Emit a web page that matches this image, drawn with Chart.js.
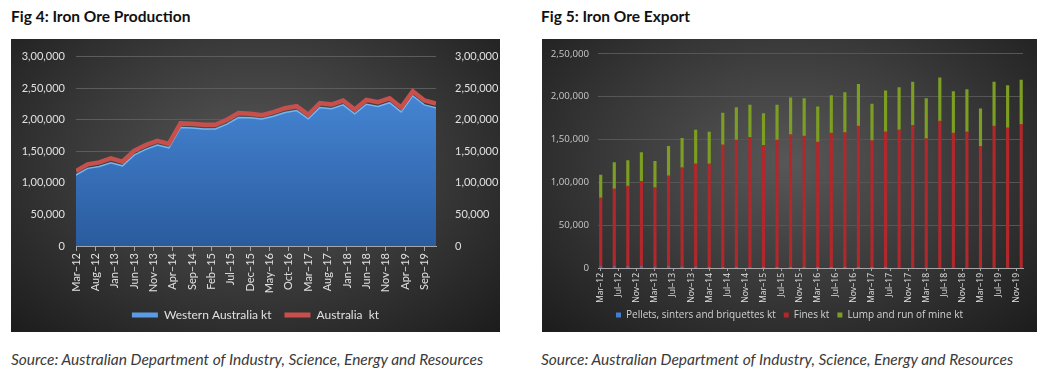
<!DOCTYPE html>
<html>
<head>
<meta charset="utf-8">
<title>Iron Ore Production and Export</title>
<script src="https://cdn.jsdelivr.net/npm/chart.js@4.4.1/dist/chart.umd.min.js"></script>
<style>
body { margin: 0; width: 1046px; height: 371px; background: #fff; position: relative; overflow: hidden; }
.title { position: absolute; top: 7px; font: bold 15.5px Lato, sans-serif; color: #111; }
.panel { position: absolute; top: 39px; height: 293px;
  background: radial-gradient(ellipse at 50% 42%, #575757 0%, #3d3d3d 45%, #1c1c1c 100%); }
.src { position: absolute; top: 350px; font: italic 15.5px Lato, sans-serif; color: #3a3a3a; }
</style>
</head>
<body>
<div class="title" style="left:11px">Fig 4: Iron Ore Production</div>
<div class="title" style="left:541px">Fig 5: Iron Ore Export</div>
<div class="panel" style="left:11px;width:489px"><canvas id="prodChart" width="489" height="293"></canvas></div>
<div class="panel" style="left:542px;width:495px"><canvas id="expChart" width="495" height="293"></canvas></div>
<div class="src" style="left:11px">Source: Australian Department of Industry, Science, Energy and Resources</div>
<div class="src" style="left:541px">Source: Australian Department of Industry, Science, Energy and Resources</div>

<script>
// Fig 4 - quarterly production (Mar-12 .. Dec-19), kt
const prodTicks = ["Mar–12","Aug–12","Jan–13","Jun–13","Nov–13","Apr–14","Sep–14","Feb–15","Jul–15","Dec–15",
                   "May–16","Oct–16","Mar–17","Aug–17","Jan–18","Jun–18","Nov–18","Apr–19","Sep–19"];
const prodWA  = [112500,123000,126000,132000,127000,144000,153000,160000,155500,187500,187000,185500,185500,193000,203500,203000,
                 201000,205500,211500,214500,201500,219500,217500,223500,209500,224500,221000,227000,212500,238000,223500,219000];
const prodAus = [118800,129300,132500,138700,133500,150800,159700,166500,161800,194200,193700,192100,192100,200000,210500,209400,
                 207300,212000,218300,221500,207900,226200,224100,230400,216200,231400,227700,234000,219400,245000,230400,225700];

// Fig 5 - quarterly exports (Mar-12 .. Dec-19), kt
const expTicks = ["Mar–12","Jul–12","Nov–12","Mar–13","Jul–13","Nov–13","Mar–14","Jul–14","Nov–14","Mar–15","Jul–15","Nov–15",
                  "Mar–16","Jul–16","Nov–16","Mar–17","Jul–17","Nov–17","Mar–18","Jul–18","Nov–18","Mar–19","Jul–19","Nov–19"];
const expPellets = [1500,1400,1300,1400,1200,1300,1100,1000,900,800,700,600,500,400,300,300,
                    200,200,100,100,100,100,0,0,0,0,0,0,0,0,0,0];
const expFines   = [80400,91100,94200,99800,92800,106300,116000,120600,120700,143100,148500,152000,142600,148800,155300,153800,
                    146700,157300,158100,165700,148700,158900,161200,166500,151000,171400,157500,159000,142000,165800,163500,167700];
const expLump    = [26500,30600,29900,33600,30600,34400,34300,39300,37000,37000,38100,37700,37000,41100,43100,43800,
                    41100,43800,46500,48700,42600,47900,49500,50600,46900,50600,48300,49400,43800,51300,49500,51700];

// quarter index -> month offset from Mar-12
const toPoints = arr => arr.map((v, i) => ({x: i * 3, y: v}));

function indian(v) {
    if (v === 0) return "0";
    const s = String(v);
    const last3 = s.slice(-3);
    let rest = s.slice(0, -3);
    if (!rest) return last3;
    rest = rest.replace(/\B(?=(\d{2})+(?!\d))/g, ",");
    return rest + "," + last3;
}

const lightText = "#e0e0e0";
const labelFont = {family: "Lato", size: 11};

function areaFill(ctx) {
    const area = ctx.chart.chartArea;
    if (!area) return "#3f7fd0";
    const g = ctx.chart.ctx.createLinearGradient(0, area.top, 0, area.bottom);
    g.addColorStop(0, "#4c8fe0");
    g.addColorStop(1, "#2a5b9e");
    return g;
}

new Chart(document.getElementById("prodChart"), {
    type: "line",
    data: {
        datasets: [{
            label: "Western Australia kt",
            data: toPoints(prodWA),
            fill: "origin",
            backgroundColor: areaFill,
            borderColor: "#74b6f2",
            borderWidth: 1.5,
            pointRadius: 0,
            tension: 0,
            order: 1
        }, {
            label: "Australia  kt",
            data: toPoints(prodAus),
            fill: false,
            backgroundColor: "#c8504c",
            borderColor: "#c8504c",
            borderWidth: 4.5,
            pointRadius: 0,
            tension: 0,
            order: 0
        }]
    },
    options: {
        responsive: false,
        animation: false,
        layout: {padding: {top: 15, bottom: 1, left: 0, right: 0}},
        plugins: {
            tooltip: {enabled: false},
            legend: {
                position: "bottom",
                labels: {
                    color: lightText,
                    font: {family: "Lato", size: 12},
                    boxWidth: 26,
                    boxHeight: 5,
                    padding: 13,
                    generateLabels: chart => Chart.defaults.plugins.legend.labels.generateLabels(chart)
                        .map(it => ({...it, lineWidth: 0, fillStyle: it.datasetIndex === 0 ? "#5a9ae6" : "#c8504c"}))
                        .sort((a, b) => a.datasetIndex - b.datasetIndex)
                }
            }
        },
        scales: {
            x: {
                type: "linear",
                min: 0,
                max: 93,
                grid: {drawOnChartArea: false, color: "#a6a6a6", tickLength: 5},
                border: {color: "#a6a6a6"},
                ticks: {
                    stepSize: 5,
                    includeBounds: false,
                    autoSkip: false,
                    minRotation: 90,
                    maxRotation: 90,
                    padding: 2,
                    color: lightText,
                    font: labelFont,
                    callback: v => v % 5 === 0 ? prodTicks[v / 5] : ""
                },
                afterFit: s => { s.height = 50; }
            },
            y: {
                position: "left",
                min: 0,
                max: 300000,
                grid: {color: "#5c5c5c", drawTicks: false},
                border: {display: false},
                ticks: {stepSize: 50000, padding: 11, color: lightText, font: labelFont, callback: indian},
                afterFit: s => { s.width = 65; }
            },
            y2: {
                position: "right",
                min: 0,
                max: 300000,
                grid: {display: false},
                border: {display: false},
                ticks: {stepSize: 50000, padding: 11, color: lightText, font: labelFont, callback: indian},
                afterFit: s => { s.width = 64; }
            }
        }
    }
});

const smallFont = {family: "Open Sans", size: 10};

new Chart(document.getElementById("expChart"), {
    type: "bar",
    data: {
        datasets: [{
            label: "Pellets, sinters and briquettes kt",
            data: toPoints(expPellets),
            backgroundColor: "#3f7fd0",
            barThickness: 2.5
        }, {
            label: "Fines kt",
            data: toPoints(expFines),
            backgroundColor: "#b0282b",
            barThickness: 2.5
        }, {
            label: "Lump and run of mine kt",
            data: toPoints(expLump),
            backgroundColor: "#7c9e22",
            barThickness: 2.5
        }]
    },
    options: {
        responsive: false,
        animation: false,
        layout: {padding: {top: 10, bottom: 2, left: 0, right: 0}},
        plugins: {
            tooltip: {enabled: false},
            legend: {
                position: "bottom",
                labels: {color: "#d0d0d0", font: smallFont, boxWidth: 5, boxHeight: 5, padding: 8}
            }
        },
        scales: {
            x: {
                type: "linear",
                stacked: true,
                offset: false,
                min: -0.6,
                max: 93.4,
                grid: {offset: false, drawOnChartArea: false, color: "#a6a6a6", tickLength: 3},
                border: {color: "#a6a6a6"},
                ticks: {
                    stepSize: 4,
                    includeBounds: false,
                    autoSkip: false,
                    minRotation: 90,
                    maxRotation: 90,
                    padding: 2,
                    color: lightText,
                    font: {family: "Open Sans", size: 8.5},
                    callback: v => (v >= 0 && v % 4 === 0) ? expTicks[v / 4] : ""
                },
                afterFit: s => { s.height = 34; }
            },
            y: {
                stacked: true,
                min: 0,
                max: 250000,
                grid: {color: "#565656", drawTicks: false},
                border: {display: false},
                ticks: {stepSize: 50000, padding: 9, color: "#c8c8c8", font: {family: "Open Sans", size: 9.7}, callback: indian},
                afterFit: s => { s.width = 56; }
            },
            // empty right margin so the legend centres on the whole panel
            yPad: {
                position: "right",
                min: 0,
                max: 250000,
                grid: {display: false},
                border: {display: false},
                ticks: {display: false},
                afterFit: s => { s.width = 14; }
            }
        }
    }
});
</script>
</body>
</html>
